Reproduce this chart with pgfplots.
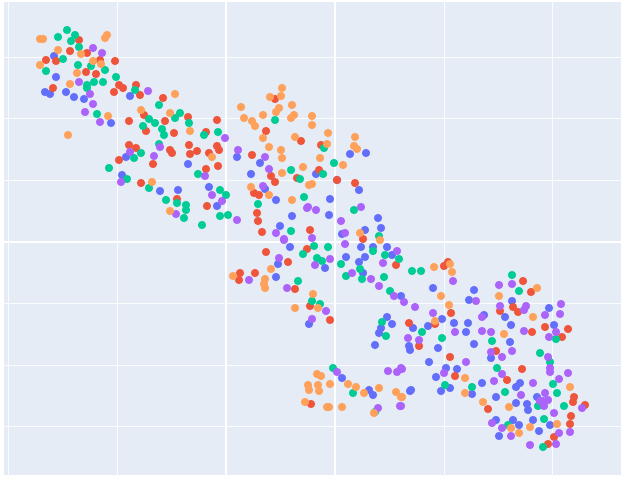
\documentclass[border=0pt]{standalone}
\usepackage{pgfplots}
\pgfplotsset{compat=1.18}
\definecolor{bgc}{HTML}{E5ECF6}
\definecolor{cb}{HTML}{636EFA}
\definecolor{cr}{HTML}{EF553B}
\definecolor{cg}{HTML}{00CC96}
\definecolor{cp}{HTML}{AB63FA}
\definecolor{co}{HTML}{FFA15A}
\pgfplotsset{pt/.style={only marks,mark=*,color=#1,mark size=3.9pt,mark options={solid,fill=#1,draw=#1,line width=0.4pt}}}
\begin{document}
\begin{tikzpicture}[x=1pt,y=1pt]
\useasboundingbox (0,0) rectangle (623,478);
\fill[white] (0,0) rectangle (623,478);
\fill[bgc] (4,3) rectangle (621,476);
\begin{axis}[
  at={(0,0)},anchor=south west,
  width=623pt,height=478pt,scale only axis,
  xmin=0,xmax=623,ymin=0,ymax=478,y dir=reverse,
  axis line style={draw=none},tick style={draw=none},
  xtick={8.5,117,444,552.5},ytick={58,119,181,303,365,426},
  xticklabels={},yticklabels={},
  extra x ticks={226,335},extra y ticks={242},
  extra x tick labels={},extra y tick labels={},
  extra tick style={grid style={white,line width=1.6pt},major tick length=0pt},
  xmajorgrids,ymajorgrids,
  grid style={white!85!bgc,line width=1pt},
  clip=false,
]
\addplot[pt=cb] coordinates {(54,56)(56,77)(45,92)(50,94)(66,92)(74,97)(84,99)(130,96)(111,123)(126,157)(122,175)(160,191)(178,190)(188,164)(209,187)(217,206)(265,189)(276,200)(260,163)(237,157)(251,174)(280,226)(292,216)(350,154)(366,153)(316,174)(337,180)(359,190)(330,199)(329,215)(378,218)(381,228)(365,230)(342,234)(361,247)(373,247)(387,247)(392,255)(365,257)(359,262)(346,257)(363,273)(401,296)(290,247)(278,264)(276,277)(325,268)(309,324)(387,317)(392,324)(381,328)(379,333)(375,345)(413,328)(428,326)(409,346)(410,350)(433,288)(474,290)(469,300)(512,301)(549,308)(505,317)(484,315)(442,319)(454,323)(468,323)(466,332)(511,325)(554,325)(510,342)(474,344)(438,348)(491,358)(429,362)(446,368)(457,369)(436,377)(482,383)(520,383)(516,387)(450,388)(441,391)(472,394)(411,390)(496,397)(516,403)(527,404)(528,410)(537,397)(496,420)(513,420)(519,425)(533,420)(550,425)(539,431)(499,436)(369,390)(373,395)(342,378)(410,391)};
\addplot[pt=cr] coordinates {(79,40)(70,51)(87,53)(46,60)(56,61)(100,60)(115,61)(86,72)(96,74)(53,88)(119,85)(123,88)(114,92)(136,85)(140,95)(163,98)(144,115)(129,121)(165,121)(188,117)(146,131)(174,133)(206,132)(129,145)(136,148)(170,150)(172,153)(189,145)(197,151)(190,154)(209,153)(119,160)(217,120)(153,164)(217,146)(219,150)(206,169)(218,166)(141,183)(177,199)(207,206)(275,99)(266,131)(301,141)(252,155)(297,178)(271,176)(275,182)(254,193)(259,195)(257,213)(258,221)(262,232)(310,230)(321,145)(319,170)(337,180)(355,183)(266,252)(288,262)(255,273)(240,273)(239,280)(295,289)(310,306)(330,320)(307,249)(363,239)(396,265)(409,323)(419,346)(448,262)(444,266)(523,281)(531,292)(513,307)(500,311)(518,312)(451,313)(435,324)(532,332)(545,327)(568,329)(562,337)(496,351)(450,357)(522,369)(455,376)(507,380)(574,397)(573,402)(585,405)(488,409)(571,416)(570,424)(554,437)(548,444)(311,404)};
\addplot[pt=cg] coordinates {(67,30)(58,37)(75,35)(71,41)(79,47)(63,59)(46,71)(78,65)(91,66)(105,70)(116,77)(94,82)(103,82)(87,85)(87,88)(135,90)(159,105)(180,113)(175,118)(149,119)(155,123)(143,126)(189,123)(162,129)(164,135)(204,135)(97,114)(159,144)(141,153)(134,158)(218,132)(109,168)(127,179)(198,174)(149,188)(220,190)(226,195)(166,200)(177,203)(186,205)(186,210)(184,218)(220,216)(228,215)(202,225)(275,120)(291,170)(300,179)(304,197)(258,204)(291,231)(324,148)(334,163)(323,174)(354,210)(379,236)(373,251)(385,255)(399,259)(341,264)(360,269)(346,276)(362,279)(384,277)(412,271)(421,271)(390,291)(314,246)(328,247)(303,254)(317,258)(322,261)(298,281)(312,301)(320,304)(382,322)(386,336)(422,332)(512,275)(519,291)(556,339)(492,341)(442,338)(540,353)(550,362)(497,368)(553,384)(557,393)(445,385)(472,387)(505,392)(564,406)(538,406)(544,419)(508,425)(543,447)(333,368)(353,393)(375,412)};
\addplot[pt=cp] coordinates {(93,48)(102,53)(79,82)(90,94)(148,91)(93,104)(85,112)(100,122)(160,147)(130,152)(154,156)(121,182)(205,176)(225,138)(212,195)(222,201)(176,214)(237,220)(238,150)(265,157)(269,169)(263,186)(307,208)(276,233)(284,239)(308,207)(316,210)(361,207)(341,221)(345,233)(312,238)(345,244)(397,251)(383,263)(352,273)(371,279)(379,286)(394,296)(404,302)(415,307)(279,258)(249,280)(287,288)(284,240)(330,259)(315,265)(326,311)(312,319)(408,338)(419,340)(453,281)(499,285)(512,284)(476,301)(500,306)(526,306)(524,310)(561,304)(560,314)(545,315)(482,317)(433,313)(455,332)(482,331)(491,332)(524,331)(556,332)(549,337)(491,352)(512,351)(548,357)(502,357)(466,362)(550,368)(550,372)(568,373)(444,373)(402,369)(502,374)(494,381)(533,383)(559,379)(521,395)(545,393)(540,401)(543,401)(548,400)(544,406)(582,408)(554,413)(492,423)(502,428)(559,433)(570,432)(511,436)(530,445)(556,444)(401,406)(337,372)(388,371)(397,372)(401,368)(378,408)(400,406)};
\addplot[pt=co] coordinates {(40,39)(43,39)(107,35)(105,38)(58,50)(81,54)(40,65)(93,61)(101,64)(77,73)(70,84)(175,94)(141,110)(170,113)(108,116)(190,131)(68,135)(212,157)(152,182)(170,211)(282,88)(270,97)(281,96)(241,107)(279,108)(276,112)(292,105)(294,115)(291,118)(263,115)(244,118)(252,121)(255,126)(263,138)(295,137)(269,147)(281,150)(282,158)(282,173)(303,167)(309,185)(251,187)(269,195)(292,200)(312,116)(312,125)(328,133)(327,144)(355,137)(354,146)(357,149)(343,165)(320,158)(312,184)(360,233)(380,240)(271,269)(233,276)(265,279)(264,284)(265,288)(313,294)(295,308)(318,308)(434,267)(450,264)(452,272)(537,288)(441,296)(449,305)(499,296)(533,317)(435,321)(504,334)(465,378)(570,387)(465,393)(402,397)(483,402)(509,407)(557,424)(530,427)(511,428)(519,433)(317,374)(321,376)(308,385)(309,390)(318,385)(319,391)(330,384)(348,384)(356,387)(364,393)(379,388)(396,392)(401,397)(305,402)(327,407)(329,407)(342,407)(374,413)};
\end{axis}
\end{tikzpicture}
\end{document}
